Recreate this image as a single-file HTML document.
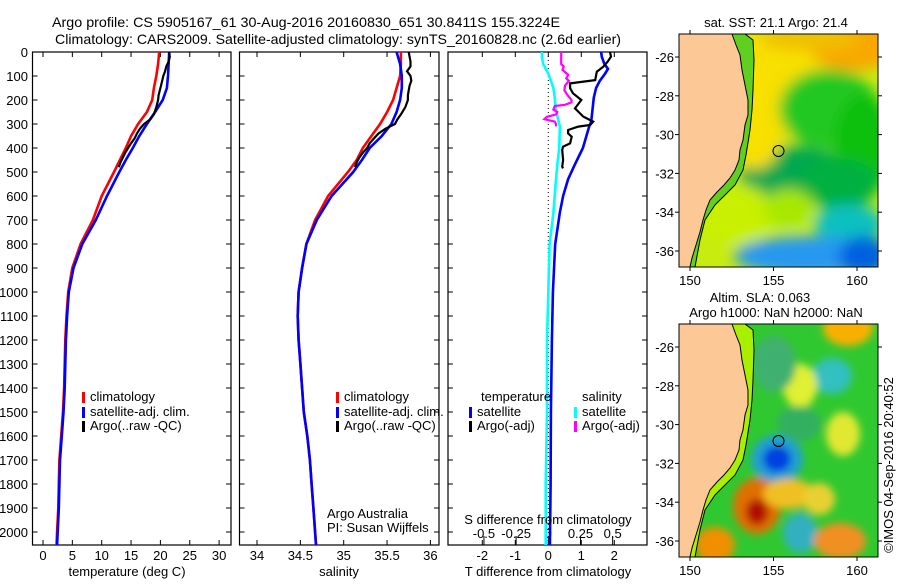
<!DOCTYPE html>
<html><head><meta charset="utf-8"><style>
html,body{margin:0;padding:0;background:#fff}
svg text{font-family:"Liberation Sans",sans-serif;fill:#000}
</style></head><body>
<svg id="fig" width="900" height="580" viewBox="0 0 900 580" xmlns="http://www.w3.org/2000/svg">
<defs>
<filter id="blur8" x="-50%" y="-50%" width="200%" height="200%"><feGaussianBlur stdDeviation="7"/></filter>
<filter id="blur4" x="-50%" y="-50%" width="200%" height="200%"><feGaussianBlur stdDeviation="4"/></filter>
<clipPath id="clipTop"><rect x="679" y="34" width="199" height="233"/></clipPath>
<clipPath id="clipBot"><rect x="679" y="324" width="199" height="233"/></clipPath>
</defs>
<text x="306" y="27" font-size="14" text-anchor="middle" textLength="508" lengthAdjust="spacingAndGlyphs">Argo profile: CS 5905167_61 30-Aug-2016 20160830_651 30.8411S 155.3224E</text>
<text x="338" y="44" font-size="14" text-anchor="middle" textLength="566" lengthAdjust="spacingAndGlyphs">Climatology: CARS2009. Satellite-adjusted climatology: synTS_20160828.nc (2.6d earlier)</text>
<g id="charts"></g>
<g id="maps"></g>
<text transform="translate(893,465) rotate(-90)" font-size="13" text-anchor="middle">©IMOS 04-Sep-2016 20:40:52</text>
</svg>
<script>
// ---- data ----
const pTicks = [0,100,200,300,400,500,600,700,800,900,1000,1100,1200,1300,1400,1500,1600,1700,1800,1900,2000];
const tTicks = [0,5,10,15,20,25,30];
const sTicks = [34,34.5,35,35.5,36];
const dTTicks = [-2,-1,0,1,2];
const dSTicks = [-0.5,-0.25,0,0.25,0.5];
const dSTickLabels = ["-0.5","-0.25","0","0.25","0.5"];

const climP = [0,50,100,150,200,250,300,350,400,450,500,600,700,800,900,1000,1100,1200,1300,1400,1500,1600,1700,1800,1900,2000,2054];
const climT = [19.8,19.6,19.3,18.9,18.6,17.7,16.2,15.0,14.1,13.1,12.1,10.0,8.5,6.4,5.0,4.3,4.0,3.8,3.7,3.6,3.4,3.1,2.8,2.7,2.6,2.4,2.3];
const satT  = [21.5,21.4,21.3,21.1,20.4,19.1,17.7,16.4,15.3,14.1,13.0,10.9,9.0,6.7,5.2,4.4,4.1,3.9,3.8,3.7,3.5,3.2,2.9,2.8,2.7,2.5,2.4];
const climS = [35.66,35.66,35.65,35.61,35.57,35.50,35.42,35.32,35.22,35.15,35.05,34.82,34.67,34.57,34.52,34.48,34.47,34.48,34.50,34.52,34.54,34.58,34.61,34.63,34.65,34.67,34.68];
const satS  = [35.61,35.65,35.67,35.67,35.65,35.61,35.55,35.44,35.30,35.21,35.11,34.86,34.69,34.57,34.52,34.48,34.47,34.48,34.50,34.52,34.54,34.58,34.61,34.63,34.65,34.67,34.68];

const argoP = [0,20,40,60,80,100,120,140,160,180,200,230,260,280,300,320,340,360,380,400,420,440,460,480];
const argoT = [21.5,21.6,21.4,21.0,20.8,20.5,20.3,20.1,19.9,19.7,19.6,19.3,18.9,18.3,17.2,16.5,16.0,15.6,15.0,14.5,14.0,13.6,13.2,12.9];
const argoS = [35.75,35.76,35.77,35.77,35.73,35.77,35.78,35.76,35.75,35.74,35.74,35.71,35.66,35.62,35.59,35.48,35.40,35.35,35.30,35.27,35.22,35.18,35.15,35.13];

const dP   = [0,20,50,70,90,120,150,190,240,290,310,400,470,530,600,670,800,1000,1200,1500,1800,2054];
const dTsat = [1.60,1.62,1.70,1.81,1.72,1.56,1.45,1.38,1.34,1.30,1.24,1.05,0.80,0.60,0.45,0.35,0.21,0.14,0.11,0.08,0.07,0.05];
const dSsat = [-0.05,-0.05,-0.04,-0.02,0.0,0.02,0.04,0.05,0.06,0.08,0.09,0.085,0.07,0.06,0.05,0.04,0.01,0.0,-0.01,-0.01,-0.02,-0.02];

const dArgoP = [0,19,40,61,82,117,131,151,172,200,235,269,290,304,311,325,339,353,381,394,408,450,478,485];
const dTargo = [1.87,1.90,1.80,1.67,1.47,1.42,0.66,0.66,0.75,1.00,0.81,1.06,1.36,1.27,0.91,0.60,0.60,0.71,0.66,0.45,0.42,0.45,0.42,0.45];
const dSArgoP = [0,30,50,60,75,95,110,120,140,160,180,200,210,220,225,240,250,260,270,280,290,300,310];
const dSargo = [0.10,0.10,0.10,0.12,0.11,0.155,0.14,0.16,0.13,0.125,0.15,0.18,0.18,0.13,0.05,0.04,0.07,0.06,-0.01,-0.03,0.05,0.06,0.06];

const NS="http://www.w3.org/2000/svg";
function mk(tag, attrs, parent){const e=document.createElementNS(NS,tag);for(const k in attrs)e.setAttribute(k,attrs[k]);parent.appendChild(e);return e;}
const charts=document.getElementById('charts');
const yTop=52, pxPerDbar=0.24;
function yP(p){return yTop+p*pxPerDbar;}
const yBot=545;

function panel(x0,x1,name){
  const g=mk('g',{},charts);
  
  
  const r=mk('rect',{x:x0,y:yTop,width:x1-x0,height:yBot-yTop,fill:'#fff',stroke:'#000','stroke-width':1.2},g);
  
  
  pTicks.forEach(p=>{
    mk('line',{x1:x0,x2:x0+5,y1:yP(p),y2:yP(p),stroke:'#000'},g);
    mk('line',{x1:x1-5,x2:x1,y1:yP(p),y2:yP(p),stroke:'#000'},g);
  });
  return g;
}
function line(g,xs,ps,xf,color,w,name){
  const pts=xs.map((v,i)=>xf(v).toFixed(1)+','+yP(ps[i]).toFixed(1)).join(' ');
  const l=mk('polyline',{points:pts,fill:'none',stroke:color,'stroke-width':w,'stroke-linejoin':'miter'},g);
  
  
}
function legendEntry(g,x,y,color,label,name){
  mk('rect',{x:x,y:y-9,width:3,height:11,fill:color},g);
  const t=mk('text',{x:x+8,y:y,'font-size':13},g);t.textContent=label;
  
  
}

// Panel 1: temperature
const xT=v=>43+v*5.87;
const g1=panel(32.5,231,'temperature-panel');
pTicks.forEach(p=>{const t=mk('text',{x:28,y:yP(p)+5,'font-size':13,'text-anchor':'end'},g1);t.textContent=p;
  
  });
tTicks.forEach(v=>{mk('line',{x1:xT(v),x2:xT(v),y1:yTop,y2:yTop+5,stroke:'#000'},g1);mk('line',{x1:xT(v),x2:xT(v),y1:yBot-5,y2:yBot,stroke:'#000'},g1);
  const t=mk('text',{x:xT(v),y:560,'font-size':13,'text-anchor':'middle'},g1);t.textContent=v;
  
  });
{const t=mk('text',{x:127,y:576,'font-size':13,'text-anchor':'middle'},g1);t.textContent='temperature (deg C)';
 
 }
line(g1,climT,climP,xT,'#f00',2.6,'temperature-climatology-line');
line(g1,satT,climP,xT,'#00f',2.6,'temperature-satellite-line');
line(g1,argoT,argoP,xT,'#000',2.2,'temperature-argo-line');
legendEntry(g1,82,401,'#f00','climatology','legend-climatology');
legendEntry(g1,82,416,'#00f','satellite-adj. clim.','legend-satellite');
legendEntry(g1,82,430,'#000','Argo(..raw -QC)','legend-argo');

// Panel 2: salinity
const xS=v=>257+(v-34)*86.7;
const g2=panel(239.5,439,'salinity-panel');
sTicks.forEach(v=>{mk('line',{x1:xS(v),x2:xS(v),y1:yTop,y2:yTop+5,stroke:'#000'},g2);mk('line',{x1:xS(v),x2:xS(v),y1:yBot-5,y2:yBot,stroke:'#000'},g2);
  const t=mk('text',{x:xS(v),y:560,'font-size':13,'text-anchor':'middle'},g2);t.textContent=v;
  
  });
{const t=mk('text',{x:339,y:576,'font-size':13,'text-anchor':'middle'},g2);t.textContent='salinity';
 
 }
line(g2,climS,climP,xS,'#f00',2.6,'salinity-climatology-line');
line(g2,satS,climP,xS,'#00f',2.6,'salinity-satellite-line');
line(g2,argoS,argoP,xS,'#000',2.2,'salinity-argo-line');
legendEntry(g2,336,401,'#f00','climatology','legend-climatology-s');
legendEntry(g2,336,416,'#00f','satellite-adj. clim.','legend-satellite-s');
legendEntry(g2,336,430,'#000','Argo(..raw -QC)','legend-argo-s');
{const t=mk('text',{x:327,y:518,'font-size':13},g2);t.textContent='Argo Australia';
 
 
 const t2=mk('text',{x:327,y:532,'font-size':13},g2);t2.textContent='PI: Susan Wijffels';
 
 }

// Panel 3: differences
const xdT=v=>548.3+v*33;
const xdS=v=>548.3+v*128.7;
const g3=panel(448,647,'difference-panel');
mk('line',{x1:548.3,x2:548.3,y1:yTop,y2:yBot,stroke:'#000','stroke-dasharray':'1,3'},g3);
dTTicks.forEach(v=>{mk('line',{x1:xdT(v),x2:xdT(v),y1:yTop,y2:yTop+5,stroke:'#000'},g3);mk('line',{x1:xdT(v),x2:xdT(v),y1:yBot-5,y2:yBot,stroke:'#000'},g3);
  const t=mk('text',{x:xdT(v),y:560,'font-size':13,'text-anchor':'middle'},g3);t.textContent=v;
  
  });
dSTicks.forEach((v,i)=>{mk('line',{x1:xdS(v),x2:xdS(v),y1:536,y2:yBot,stroke:'#000'},g3);
  const t=mk('text',{x:xdS(v),y:538,'font-size':13,'text-anchor':'middle'},g3);t.textContent=dSTickLabels[i];
  
  });
line(g3,dTsat,dP,xdT,'#00f',2.6,'t-diff-satellite-line');
line(g3,dSsat,dP,xdS,'#0ff',2.6,'s-diff-satellite-line');
line(g3,dSargo,dSArgoP,xdS,'#f0f',2.2,'s-diff-argo-line');
line(g3,dTargo,dArgoP,xdT,'#000',2.2,'t-diff-argo-line');
{const t=mk('text',{x:548,y:524,'font-size':13,'text-anchor':'middle'},g3);t.textContent='S difference from climatology';
 
 
 const t2=mk('text',{x:548,y:576,'font-size':13,'text-anchor':'middle'},g3);t2.textContent='T difference from climatology';
 
 
 const t3=mk('text',{x:481,y:401,'font-size':13},g3);t3.textContent='temperature';
 
 
 const t4=mk('text',{x:582,y:401,'font-size':13},g3);t4.textContent='salinity';
 
 }
legendEntry(g3,469,416,'#00f','satellite','legend-t-satellite');
legendEntry(g3,469,430,'#000','Argo(-adj)','legend-t-argo');
legendEntry(g3,574,416,'#0ff','satellite','legend-s-satellite');
legendEntry(g3,574,430,'#f0f','Argo(-adj)','legend-s-argo');

// ---- maps ----
const maps=document.getElementById('maps');
const lonTicks=[150,155,160];
const latTicks=[-26,-28,-30,-32,-34,-36];
const coast=[[732,34],[736,45],[740,55],[742,70],[745,85],[748,100],[748,115],[745,125],[743,140],[740,150],[739,160],[735,170],[730,178],[724,185],[717,192],[710,200],[706,210],[703,220],[700,232],[696,245],[692,258],[690,267]];
const contour=[[745,34],[753,40],[754,60],[753,90],[752,110],[750,130],[746,155],[743,170],[735,185],[725,195],[715,205],[705,220],[700,240],[695,267]];
// blobs: [x,y relative to map box (px), rx, ry, colour]
const sstBlobs=[[100,50,70,55,'#f8e000'],[175,12,45,25,'#f8a800'],[130,5,50,12,'#f0c000'],[150,75,50,40,'#20c820'],[185,110,30,50,'#10c010'],[115,140,55,28,'#00a850'],[160,150,40,25,'#00b040'],[55,180,40,30,'#c8f000'],[110,175,25,20,'#a8e800'],[170,190,35,20,'#10c0c0'],[130,222,75,20,'#2898f0'],[185,222,25,20,'#0060e0'],[75,110,25,25,'#f8e000']];
const slaBlobs=[[98,135,26,24,'#20a0d0'],[98,135,14,13,'#0040e0'],[78,182,24,28,'#e07000'],[78,188,11,13,'#b01000'],[121,209,17,20,'#30b0c0'],[153,52,20,18,'#30c0c0'],[169,4,25,18,'#f8b000'],[161,217,26,18,'#f09020'],[36,221,20,18,'#f09000'],[121,62,17,22,'#e0f030'],[164,110,17,22,'#e0e830'],[110,170,26,15,'#f0c020'],[140,175,16,16,'#e8d030'],[95,40,22,28,'#40b070'],[120,100,22,18,'#30b060']];
function drawMap(y0,clipId,blobs,base,name,mid,filt){
  const g=mk('g',{},maps);
  
  
  const c=mk('g',{'clip-path':'url(#'+clipId+')'},g);
  mk('rect',{x:679,y:y0,width:199,height:233,fill:base},c);
  const bg=mk('g',{filter:'url(#'+filt+')'},c);
  blobs.forEach(b=>mk('ellipse',{cx:679+b[0],cy:y0+b[1],rx:b[2],ry:b[3],fill:b[4]},bg));
  const dy=y0-34;
  const strip=coast.map(p=>p[0]+','+(p[1]+dy)).join(' ')+' '+contour.slice().reverse().map(p=>p[0]+','+(p[1]+dy)).join(' ');
  mk('polygon',{points:strip,fill:mid},c);
  const land='679,'+y0+' '+coast.map(p=>p[0]+','+(p[1]+dy)).join(' ')+' 679,'+(y0+233);
  const l=mk('polygon',{points:land,fill:'#fbc896',stroke:'#000','stroke-width':1},c);
  
  
  mk('polyline',{points:contour.map(p=>p[0]+','+(p[1]+dy)).join(' '),fill:'none',stroke:'#000','stroke-width':1},c);
  const mk2=mk('circle',{cx:778.5,cy:y0+117,r:5.5,fill:'none',stroke:'#000','stroke-width':1},g);
  
  
  mk('rect',{x:679,y:y0,width:199,height:233,fill:'none',stroke:'#000','stroke-width':1},g);
  lonTicks.forEach(v=>{const x=690+(v-150)*16.7;
    mk('line',{x1:x,x2:x,y1:y0-4,y2:y0,stroke:'#000'},g);mk('line',{x1:x,x2:x,y1:y0+233,y2:y0+237,stroke:'#000'},g);
    const t=mk('text',{x:x,y:y0+251,'font-size':13,'text-anchor':'middle'},g);t.textContent=v;
    
    });
  latTicks.forEach(v=>{const y=y0+23+(-26-v)*19.4;
    mk('line',{x1:675,x2:679,y1:y,y2:y,stroke:'#000'},g);mk('line',{x1:878,x2:882,y1:y,y2:y,stroke:'#000'},g);
    const t=mk('text',{x:674,y:y+5,'font-size':13,'text-anchor':'end'},g);t.textContent=v;
    
    });
}
drawMap(34,'clipTop',sstBlobs,'#c8ec10','sst-map','#60d020','blur8');
drawMap(324,'clipBot',slaBlobs,'#30c830','sla-map','#a8f000','blur4');
{const t=mk('text',{x:776,y:27,'font-size':13,'text-anchor':'middle'},maps);t.textContent='sat. SST: 21.1 Argo: 21.4';
 
 
 const t2=mk('text',{x:760,y:302,'font-size':13,'text-anchor':'middle'},maps);t2.textContent='Altim. SLA: 0.063';
 
 
 const t3=mk('text',{x:776,y:317,'font-size':13,'text-anchor':'middle'},maps);t3.textContent='Argo h1000: NaN h2000: NaN';
 
 }
</script>
</body></html>
